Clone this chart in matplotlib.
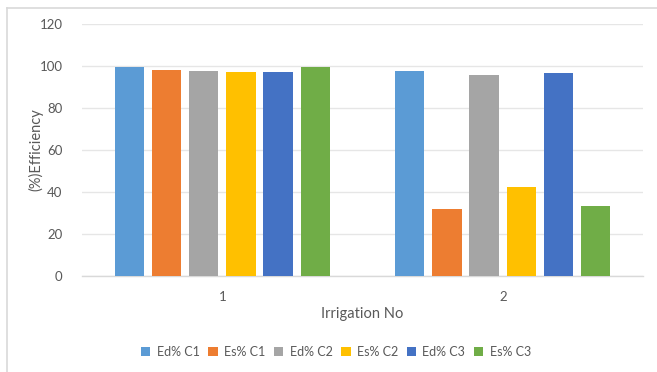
import matplotlib
matplotlib.use("Agg")
import matplotlib.pyplot as plt
from matplotlib.lines import Line2D
import numpy as np

plt.rcParams['font.family'] = ['Lato', 'DejaVu Sans']

# Data
irrigations = ["1", "2"]
series_names = ["Ed% C1", "Es% C1", "Ed% C2", "Es% C2", "Ed% C3", "Es% C3"]
ed_c1 = [99.4, 97.8]
es_c1 = [98.1, 31.9]
ed_c2 = [97.6, 95.9]
es_c2 = [97.1, 42.4]
ed_c3 = [97.0, 96.5]
es_c3 = [99.7, 33.5]
series_values = [ed_c1, es_c1, ed_c2, es_c2, ed_c3, es_c3]
colors = ["#5B9BD5", "#ED7D31", "#A5A5A5", "#FFC000", "#4472C4", "#70AD47"]

text_color = "#595959"
grid_color = "#E6E6E6"

fig = plt.figure(figsize=(6.57, 3.72), dpi=100)
ax = fig.add_axes([82 / 657, 1 - 276 / 372, (643 - 82) / 657, (276 - 24) / 372])

x = np.arange(len(irrigations))
step = 0.1326
width = 0.105
for i, (name, vals, col) in enumerate(zip(series_names, series_values, colors)):
    ax.bar(x + (i - 2.5) * step, vals, width=width, color=col, label=name, zorder=3)

ax.set_xlim(-0.5, len(irrigations) - 0.5)
ax.set_ylim(0, 120)
ax.set_yticks(np.arange(0, 121, 20))
ax.set_xticks(x)
ax.set_xticklabels(irrigations)
ax.yaxis.grid(True, color=grid_color, linewidth=1.0, zorder=0)
ax.set_axisbelow(True)
for side in ["top", "right", "left"]:
    ax.spines[side].set_visible(False)
ax.spines["bottom"].set_color("#D9D9D9")
ax.spines["bottom"].set_linewidth(1.0)
ax.tick_params(axis="both", length=0, colors=text_color, labelsize=9.5)
ax.tick_params(axis="y", pad=14)
ax.tick_params(axis="x", pad=11)

ax.set_xlabel("Irrigation No", color=text_color, fontsize=10.5)
ax.xaxis.set_label_coords(0.499, -0.122)
ax.set_ylabel("(%)Efficiency", color=text_color, fontsize=10.5)
ax.yaxis.set_label_coords(-0.068, 0.5)

leg = fig.legend(loc="center", bbox_to_anchor=(336 / 657, 1 - 352 / 372), ncol=6,
                 frameon=False, fontsize=9, handlelength=0.75, handleheight=0.75,
                 handletextpad=0.5, columnspacing=0.7)
for t in leg.get_texts():
    t.set_color(text_color)

# Chart frame (top and left edges)
fig.add_artist(Line2D([7 / 657, 7 / 657], [0, 1 - 8 / 372], transform=fig.transFigure,
                      color="#D9D9D9", linewidth=1.2))
fig.add_artist(Line2D([7 / 657, 1], [1 - 8 / 372, 1 - 8 / 372], transform=fig.transFigure,
                      color="#D9D9D9", linewidth=1.2))

fig.savefig("out.png", dpi=100, facecolor="white")
